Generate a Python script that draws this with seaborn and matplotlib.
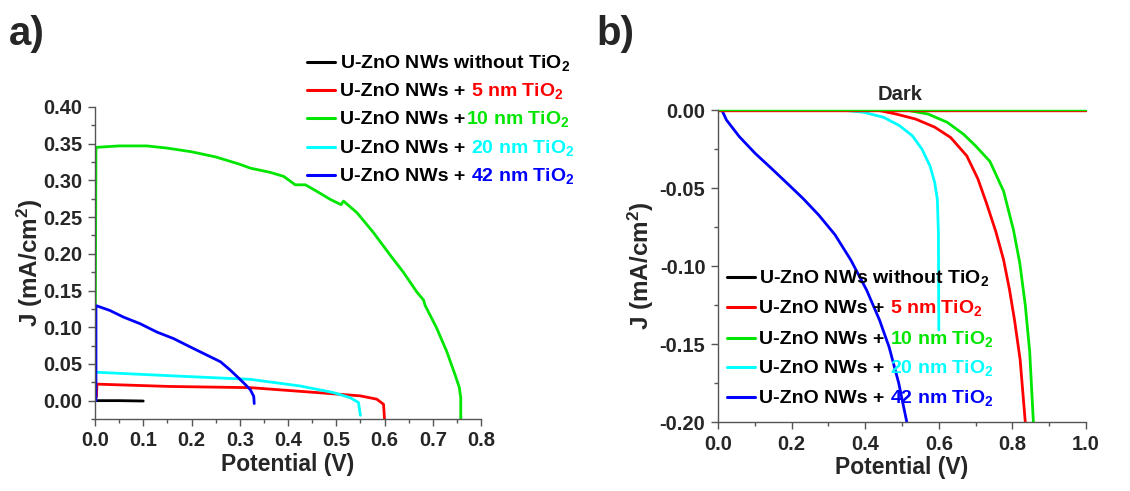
import matplotlib

matplotlib.use("Agg")
import matplotlib.pyplot as plt
import seaborn as sns
from matplotlib.lines import Line2D
from matplotlib.ticker import MultipleLocator

# ---- panel a) illuminated J-V ------------------------------------------
a_black_v = [0.0, 0.05, 0.1]
a_black_j = [0.0, 0.0, -0.0005]

a_red_v = [0.003, 0.004, 0.156, 0.322, 0.46, 0.55, 0.584, 0.598, 0.6]
a_red_j = [0.005, 0.0225, 0.0193, 0.0177, 0.011, 0.0065, 0.002, -0.005, -0.025]

a_green_v = [0.0, 0.002, 0.05, 0.107, 0.15, 0.2, 0.25, 0.3, 0.322, 0.363, 0.391,
             0.415, 0.436, 0.46, 0.488, 0.51, 0.515, 0.543, 0.577, 0.612, 0.639,
             0.667, 0.681, 0.684, 0.708, 0.729, 0.746, 0.755, 0.758, 0.758]
a_green_j = [0.0, 0.345, 0.347, 0.347, 0.344, 0.339, 0.332, 0.322, 0.3167, 0.311, 0.3055,
             0.294, 0.294, 0.285, 0.274, 0.267, 0.2718, 0.256, 0.229, 0.198, 0.175,
             0.148, 0.137, 0.130, 0.099, 0.067, 0.0357, 0.018, 0.004, -0.025]

a_cyan_v = [0.003, 0.163, 0.322, 0.425, 0.494, 0.529, 0.546, 0.55]
a_cyan_j = [0.0387, 0.0337, 0.029, 0.020, 0.011, 0.004, -0.0025, -0.02]

a_blue_v = [0.002, 0.002, 0.031, 0.059, 0.0935, 0.128, 0.163, 0.197, 0.232, 0.26,
            0.28, 0.298, 0.312, 0.322, 0.329, 0.33]
a_blue_j = [0.0, 0.1295, 0.1228, 0.1138, 0.1048, 0.0935, 0.0845, 0.0733, 0.062, 0.053,
            0.0418, 0.0306, 0.0216, 0.0148, 0.0058, -0.004]

# ---- panel b) dark J-V --------------------------------------------------
b_flat_v = [0.0, 1.0]
b_flat_j = [0.0, 0.0]

b_red_v = [0.0, 0.432, 0.484, 0.537, 0.589, 0.632, 0.676, 0.706, 0.73, 0.755,
           0.776, 0.792, 0.806, 0.821, 0.835]
b_red_j = [0.0, 0.0, -0.0026, -0.0058, -0.011, -0.0176, -0.0294, -0.044, -0.06, -0.078,
           -0.096, -0.115, -0.135, -0.160, -0.20]

b_green_v = [0.0, 0.51, 0.571, 0.623, 0.667, 0.70, 0.739, 0.776, 0.803, 0.82,
             0.835, 0.847, 0.857]
b_green_j = [0.0, 0.0, -0.0026, -0.0079, -0.0155, -0.023, -0.033, -0.052, -0.077, -0.098,
             -0.125, -0.155, -0.20]

b_cyan_v = [0.0, 0.29, 0.35, 0.397, 0.45, 0.493, 0.528, 0.554, 0.576, 0.589,
            0.596, 0.599, 0.6]
b_cyan_j = [0.0, 0.0, -0.0004, -0.0015, -0.0047, -0.010, -0.0165, -0.025, -0.0358, -0.0466,
            -0.0573, -0.0788, -0.141]

b_blue_v = [0.0, 0.0104, 0.023, 0.058, 0.101, 0.145, 0.188, 0.231, 0.274, 0.318,
            0.361, 0.404, 0.439, 0.465, 0.491, 0.513]
b_blue_j = [0.0, 0.0, -0.0064, -0.0171, -0.0278, -0.0374, -0.047, -0.0567, -0.0674, -0.080,
            -0.0962, -0.1155, -0.1347, -0.152, -0.175, -0.20]

colors = ["#000000", "#ff0000", "#00e600", "#00ffff", "#0000ff"]
prefix = "U-ZnO NWs"
legend_a = [("without TiO$_2$", " "), ("5 nm TiO$_2$", " + "), ("10 nm TiO$_2$", " +"),
            ("20 nm TiO$_2$", " + "), ("42 nm TiO$_2$", " + ")]
legend_b = [("without TiO$_2$", " "), ("5 nm TiO$_2$", " + "), ("10 nm TiO$_2$", " + "),
            ("20 nm TiO$_2$", " + "), ("42 nm TiO$_2$", " + ")]

sns.set_theme(style="ticks")
plt.rcParams["font.family"] = ["Liberation Sans", "DejaVu Sans"]
plt.rcParams["font.weight"] = "bold"
plt.rcParams["mathtext.fontset"] = "custom"
plt.rcParams["mathtext.rm"] = "Liberation Sans:bold"
plt.rcParams["mathtext.bf"] = "Liberation Sans:bold"
plt.rcParams["mathtext.default"] = "bf"

W, H = 1130, 491
fig = plt.figure(figsize=(W / 100, H / 100), dpi=100)
ax_a = fig.add_axes([95 / W, 1 - 419 / H, (481 - 95) / W, (419 - 107) / H])
ax_b = fig.add_axes([718 / W, 1 - 422 / H, (1086 - 718) / W, (422 - 110) / H])


def _curve(ax, v, j, color, lw=2.0):
    sns.lineplot(x=v, y=j, ax=ax, color=color, lw=lw, sort=False,
                 estimator=None, legend=False)


for v, j, c in [(a_black_v, a_black_j, colors[0]), (a_red_v, a_red_j, colors[1]),
                (a_cyan_v, a_cyan_j, colors[3]), (a_green_v, a_green_j, colors[2]),
                (a_blue_v, a_blue_j, colors[4])]:
    _curve(ax_a, v, j, c)

for v, j, c in [(b_red_v, b_red_j, colors[1]), (b_green_v, b_green_j, colors[2]),
                (b_cyan_v, b_cyan_j, colors[3]), (b_blue_v, b_blue_j, colors[4])]:
    _curve(ax_b, v, j, c)
ax_b.plot(b_flat_v, [y - 0.0004 for y in b_flat_j], color=colors[1], lw=1.0, clip_on=False)
ax_b.plot(b_flat_v, b_flat_j, color=colors[2], lw=1.0, clip_on=False)


def _style(ax, xlim, ylim, xmaj, ymaj, ypad):
    ax.set_xlim(*xlim)
    ax.set_ylim(*ylim)
    ax.xaxis.set_major_locator(MultipleLocator(xmaj))
    ax.xaxis.set_minor_locator(MultipleLocator(xmaj / 2))
    ax.yaxis.set_major_locator(MultipleLocator(ymaj))
    ax.yaxis.set_minor_locator(MultipleLocator(ymaj / 2))
    ax.xaxis.set_major_formatter(lambda x, p: f"{x:.1f}")
    ax.yaxis.set_major_formatter(lambda y, p: f"{y:.2f}")
    for side in ("top", "right"):
        ax.spines[side].set_visible(False)
    for side in ("left", "bottom"):
        ax.spines[side].set_color("#555555")
        ax.spines[side].set_linewidth(1.0)
    ax.tick_params(which="major", direction="out", length=5, width=1,
                   color="#555555", labelsize=14.5, pad=4)
    ax.tick_params(which="minor", direction="out", length=3, width=1, color="#555555")
    for lab in ax.get_xticklabels() + ax.get_yticklabels():
        lab.set_fontweight("bold")
    ax.set_xlabel("Potential (V)", fontsize=16.5, fontweight="bold", labelpad=2)
    ax.set_ylabel("J (mA/cm$^2$)", fontsize=17.5, fontweight="bold", labelpad=ypad)


_style(ax_a, (0.0, 0.8), (-0.025, 0.40), 0.1, 0.05, -1)
_style(ax_b, (0.0, 1.0), (-0.20, 0.0), 0.2, 0.05, 3)

ax_b.text(0.495, 0.004, "Dark", ha="center", va="bottom", fontsize=14.5, fontweight="bold")

fig.text(9 / W, 1 - 45 / H, "a)", fontsize=29, fontweight="bold", va="baseline")
fig.text(596 / W, 1 - 45 / H, "b)", fontsize=29, fontweight="bold", va="baseline")


def _legend(rows, x_line, x_text, y_lines, base_off, size):
    for (label, sep), c, yl in zip(rows, colors, y_lines):
        fig.add_artist(Line2D([x_line[0] / W, x_line[1] / W], [1 - yl / H, 1 - yl / H],
                              color=c, lw=2.2, transform=fig.transFigure))
        yb = 1 - (yl + base_off) / H
        black = prefix + sep.rstrip() if c != colors[0] else prefix + " " + label
        t1 = fig.text(x_text / W, yb, black, fontsize=size, fontweight="bold",
                      va="baseline", color="black")
        if c != colors[0]:
            gap = 4 if sep.endswith(" ") else 0.5
            ann = plt.annotate(label, xy=(1, yb), xycoords=(t1, "figure fraction"),
                               xytext=(gap, 0), textcoords="offset points",
                               fontsize=size, fontweight="bold", color=c,
                               va="baseline", ha="left", annotation_clip=False)
            ann.set_figure(fig)


_legend(legend_a, (307, 335), 340, [62, 90, 118, 147, 175], 6, 14)
_legend(legend_b, (727, 755), 759, [277, 307, 338, 367, 397], 6, 14)

fig.savefig("out.png", dpi=100)
